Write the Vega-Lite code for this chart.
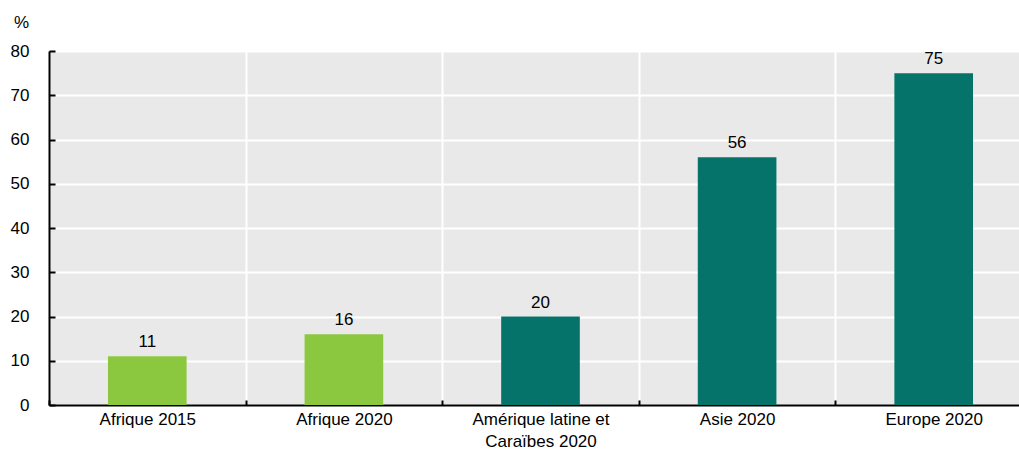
{
  "$schema": "https://vega.github.io/schema/vega-lite/v6.json",
  "autosize": {"type": "none"},
  "padding": {"left": 49, "top": 51, "right": -13, "bottom": 49},
  "width": 983,
  "height": 354,
  "background": "white",
  "config": {
    "view": {"fill": "#E9E9E9", "stroke": null},
    "font": "Liberation Sans",
    "axis": {"labelFont": "Liberation Sans", "titleFont": "Liberation Sans"}
  },
  "data": {
    "values": [
      {"region": "Afrique 2015", "groupe": "Afrique", "valeur": 11},
      {"region": "Afrique 2020", "groupe": "Afrique", "valeur": 16},
      {"region": "Amérique latine et Caraïbes 2020", "groupe": "Autre", "valeur": 20},
      {"region": "Asie 2020", "groupe": "Autre", "valeur": 56},
      {"region": "Europe 2020", "groupe": "Autre", "valeur": 75}
    ]
  },
  "encoding": {
    "x": {
      "field": "region",
      "type": "nominal",
      "sort": null,
      "scale": {"paddingInner": 0, "paddingOuter": 0},
      "axis": {
        "title": null,
        "labelAngle": 0,
        "labelFontSize": 17,
        "labelColor": "#000",
        "labelPadding": 11,
        "labelExpr": "datum.value == 'Amérique latine et Caraïbes 2020' ? ['Amérique latine et', 'Caraïbes 2020'] : datum.value",
        "labelLineHeight": 22,
        "tickBand": "extent",
        "grid": true,
        "gridColor": "white",
        "gridWidth": 2,
        "domainColor": "#000",
        "domainWidth": 2,
        "tickColor": "#000",
        "tickSize": -5,
        "tickWidth": 2
      }
    }
  },
  "layer": [
    {
      "mark": {"type": "bar", "width": {"band": 0.40}},
      "encoding": {
        "y": {
          "field": "valeur",
          "type": "quantitative",
          "scale": {"domain": [0, 80]},
          "axis": {
            "values": [0, 10, 20, 30, 40, 50, 60, 70, 80],
            "title": "%",
            "titleAngle": 0,
            "titleFontSize": 17,
            "titleFontWeight": "normal",
            "titleColor": "#000",
            "titleX": -28,
            "titleY": -24,
            "titleAlign": "center",
            "titleBaseline": "alphabetic",
            "labelFontSize": 17,
            "labelColor": "#000",
            "labelPadding": 26,
            "grid": true,
            "gridColor": "white",
            "gridWidth": 2,
            "domainColor": "#000",
            "domainWidth": 2,
            "tickColor": "#000",
            "tickSize": -6,
            "tickWidth": 2
          }
        },
        "color": {
          "field": "groupe",
          "type": "nominal",
          "scale": {"domain": ["Afrique", "Autre"], "range": ["#8CC83F", "#05736A"]},
          "legend": null
        }
      }
    },
    {
      "mark": {"type": "text", "baseline": "bottom", "dy": -5, "fontSize": 17, "color": "#000"},
      "encoding": {
        "y": {"field": "valeur", "type": "quantitative"},
        "text": {"field": "valeur", "type": "quantitative"}
      }
    }
  ]
}
